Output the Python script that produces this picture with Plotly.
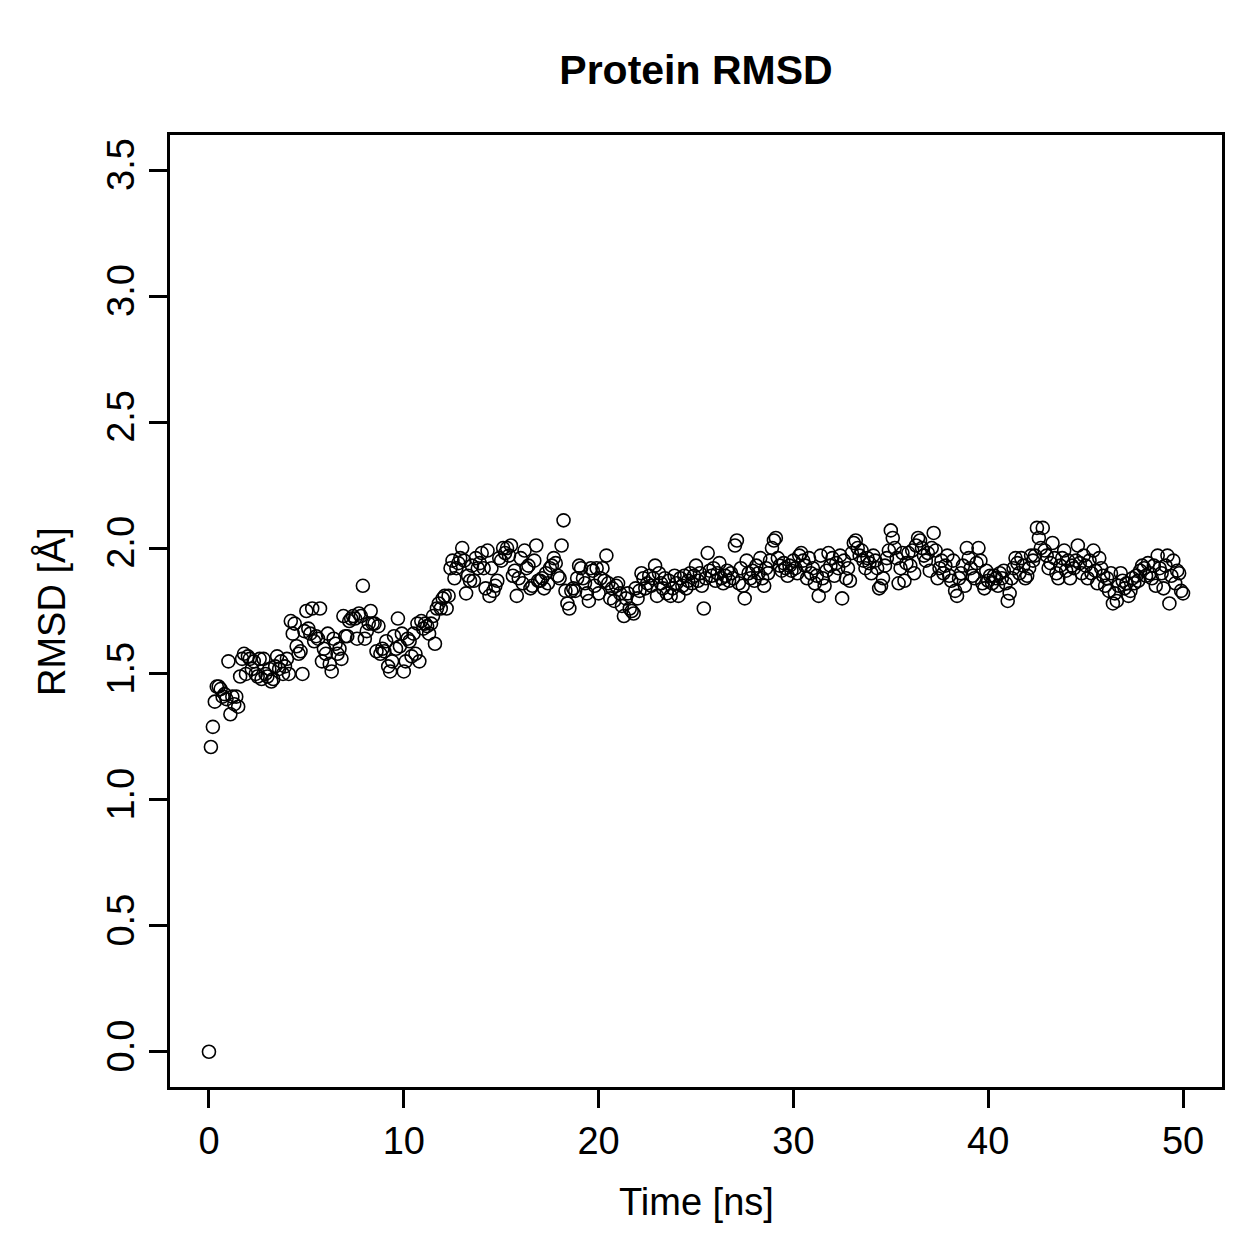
import plotly.graph_objects as go

# RMSD values (Å), sampled every 0.1 ns from 0 to 50 ns
rmsd = [
    0.00,
    1.21, 1.29, 1.39, 1.45, 1.45, 1.44, 1.41, 1.42, 1.40,
    1.55, 1.34, 1.41, 1.38, 1.41, 1.37, 1.49, 1.56, 1.58, 1.50,
    1.57, 1.56, 1.52, 1.55, 1.50, 1.49, 1.56, 1.48, 1.56, 1.50,
    1.49, 1.52, 1.47, 1.48, 1.53, 1.57, 1.52, 1.55, 1.50, 1.53,
    1.56, 1.50, 1.71, 1.66, 1.70, 1.61, 1.58, 1.59, 1.50, 1.67,
    1.75, 1.68, 1.66, 1.76, 1.63, 1.65, 1.64, 1.76, 1.55, 1.60,
    1.58, 1.66, 1.54, 1.51, 1.64, 1.62, 1.58, 1.60, 1.56, 1.73,
    1.65, 1.65, 1.71, 1.72, 1.73, 1.72, 1.64, 1.74, 1.73, 1.85,
    1.64, 1.67, 1.70, 1.75, 1.70, 1.70, 1.59, 1.69, 1.58, 1.60,
    1.59, 1.63, 1.53, 1.51, 1.55, 1.65, 1.60, 1.72, 1.61, 1.66,
    1.51, 1.55, 1.64, 1.63, 1.57, 1.66, 1.58, 1.70, 1.55, 1.71,
    1.68, 1.70, 1.69, 1.66, 1.70, 1.73, 1.62, 1.76, 1.78, 1.76,
    1.80, 1.81, 1.76, 1.81, 1.92, 1.95, 1.88, 1.92, 1.94, 1.96,
    2.00, 1.95, 1.82, 1.89, 1.87, 1.93, 1.87, 1.96, 1.92, 1.94,
    1.98, 1.92, 1.84, 1.99, 1.81, 1.92, 1.83, 1.85, 1.87, 1.96,
    1.95, 2.00, 1.98, 2.00, 1.97, 2.01, 1.89, 1.91, 1.81, 1.88,
    1.96, 1.86, 1.99, 1.92, 1.93, 1.84, 1.85, 1.95, 2.01, 1.87,
    1.87, 1.88, 1.84, 1.90, 1.86, 1.92, 1.93, 1.96, 1.94, 1.89,
    1.88, 2.01, 2.11, 1.83, 1.78, 1.76, 1.83, 1.84, 1.83, 1.88,
    1.93, 1.92, 1.88, 1.86, 1.82, 1.79, 1.92, 1.91, 1.85, 1.92,
    1.82, 1.88, 1.92, 1.87, 1.97, 1.86, 1.80, 1.84, 1.79, 1.85,
    1.86, 1.82, 1.77, 1.73, 1.80, 1.82, 1.76, 1.75, 1.74, 1.84,
    1.80, 1.83, 1.90, 1.88, 1.84, 1.86, 1.89, 1.85, 1.88, 1.93,
    1.81, 1.90, 1.86, 1.84, 1.88, 1.82, 1.87, 1.81, 1.84, 1.89,
    1.86, 1.81, 1.88, 1.85, 1.89, 1.84, 1.87, 1.90, 1.86, 1.89,
    1.93, 1.87, 1.90, 1.85, 1.76, 1.88, 1.98, 1.91, 1.89, 1.92,
    1.87, 1.90, 1.94, 1.88, 1.86, 1.89, 1.91, 1.87, 1.90, 1.88,
    2.01, 2.03, 1.86, 1.92, 1.85, 1.80, 1.95, 1.90, 1.88, 1.91,
    1.87, 1.93, 1.90, 1.96, 1.88, 1.85, 1.92, 1.90, 1.95, 2.00,
    2.03, 2.04, 1.96, 1.93, 1.91, 1.94, 1.92, 1.89, 1.93, 1.91,
    1.95, 1.92, 1.90, 1.97, 1.98, 1.95, 1.93, 1.88, 1.96, 1.90,
    1.92, 1.86, 1.89, 1.81, 1.97, 1.88, 1.85, 1.91, 1.98, 1.93,
    1.96, 1.89, 1.94, 1.92, 1.97, 1.80, 1.95, 1.88, 1.92, 1.87,
    1.98, 2.02, 2.03, 2.00, 1.97, 1.99, 1.95, 1.92, 1.96, 1.94,
    1.90, 1.97, 1.95, 1.92, 1.84, 1.85, 1.88, 1.93, 1.96, 1.99,
    2.07, 2.04, 2.00, 1.96, 1.86, 1.92, 1.98, 1.87, 1.94, 1.98,
    1.93, 1.99, 1.90, 2.01, 2.04, 2.03, 2.00, 1.97, 1.95, 1.98,
    1.91, 2.00, 2.06, 1.99, 1.88, 1.92, 1.95, 1.90, 1.93, 1.97,
    1.89, 1.87, 1.95, 1.83, 1.81, 1.88, 1.90, 1.93, 1.85, 2.00,
    1.96, 1.92, 1.89, 1.88, 1.94, 2.00, 1.95, 1.86, 1.84, 1.91,
    1.87, 1.89, 1.86, 1.89, 1.88, 1.85, 1.90, 1.88, 1.91, 1.86,
    1.79, 1.82, 1.88, 1.92, 1.96, 1.94, 1.90, 1.96, 1.93, 1.88,
    1.89, 1.92, 1.97, 1.95, 1.97, 2.08, 2.04, 2.00, 2.08, 1.99,
    1.97, 1.92, 1.94, 2.02, 1.96, 1.90, 1.88, 1.93, 1.96, 1.99,
    1.91, 1.95, 1.88, 1.93, 1.92, 1.95, 2.01, 1.94, 1.90, 1.97,
    1.93, 1.88, 1.95, 1.90, 1.99, 1.91, 1.86, 1.96, 1.92, 1.89,
    1.85, 1.88, 1.83, 1.90, 1.78, 1.82, 1.79, 1.85, 1.90, 1.87,
    1.84, 1.86, 1.81, 1.83, 1.88, 1.86, 1.89, 1.87, 1.91, 1.93,
    1.92, 1.89, 1.94, 1.90, 1.88, 1.93, 1.85, 1.97, 1.92, 1.90,
    1.84, 1.93, 1.97, 1.78, 1.89, 1.95, 1.86, 1.91, 1.90, 1.83,
    1.82,
]
time_ns = [i / 10 for i in range(len(rmsd))]

x_ticks = [0, 10, 20, 30, 40, 50]
y_ticks = [0.0, 0.5, 1.0, 1.5, 2.0, 2.5, 3.0, 3.5]
y_tick_labels = ["0.0", "0.5", "1.0", "1.5", "2.0", "2.5", "3.0", "3.5"]

FONT = "Liberation Sans, Arial, Helvetica, sans-serif"

fig = go.Figure(
    go.Scatter(
        x=time_ns, y=rmsd, mode="markers",
        marker=dict(symbol="circle-open", size=13, color="black",
                    line=dict(color="black", width=1.6)),
        showlegend=False,
    )
)

plot_h = 1259 - 135 - 172
plot_w = 1259 - 170 - 37

fig.update_layout(
    width=1259, height=1259,
    margin=dict(l=170, r=37, t=135, b=172),
    paper_bgcolor="white", plot_bgcolor="white",
    font=dict(family=FONT, size=38, color="black"),
    title=dict(text="<b>Protein RMSD</b>", x=0.5528, xanchor="center",
               y=1 - 70 / 1259, yanchor="middle", yref="container",
               font=dict(family=FONT, size=41, color="black")),
    xaxis=dict(range=[-2, 52], tickvals=x_ticks, ticks="outside",
               ticklen=18, tickwidth=3, tickcolor="black",
               showline=True, linewidth=3, linecolor="black", mirror=True,
               showgrid=False, zeroline=False, ticklabelstandoff=0,
               tickfont=dict(size=38)),
    yaxis=dict(range=[-0.14, 3.64], tickvals=y_ticks, ticktext=y_tick_labels,
               ticks="outside", ticklen=18, tickwidth=3, tickcolor="black",
               showline=True, linewidth=3, linecolor="black", mirror=True,
               showgrid=False, zeroline=False, tickangle=-90,
               ticklabelstandoff=0, tickfont=dict(size=38)),
    annotations=[
        dict(text="Time [ns]", x=0.5, xref="paper", y=(1087 - 1202) / plot_h,
             yref="paper", showarrow=False, xanchor="center", yanchor="middle",
             font=dict(size=38)),
        dict(text="RMSD [Å]", x=(51 - 170) / plot_w, xref="paper",
             y=(1087 - 612) / plot_h, yref="paper",
             showarrow=False, textangle=-90, xanchor="center", yanchor="middle",
             font=dict(size=38)),
    ],
)

fig.write_html("out.html")
